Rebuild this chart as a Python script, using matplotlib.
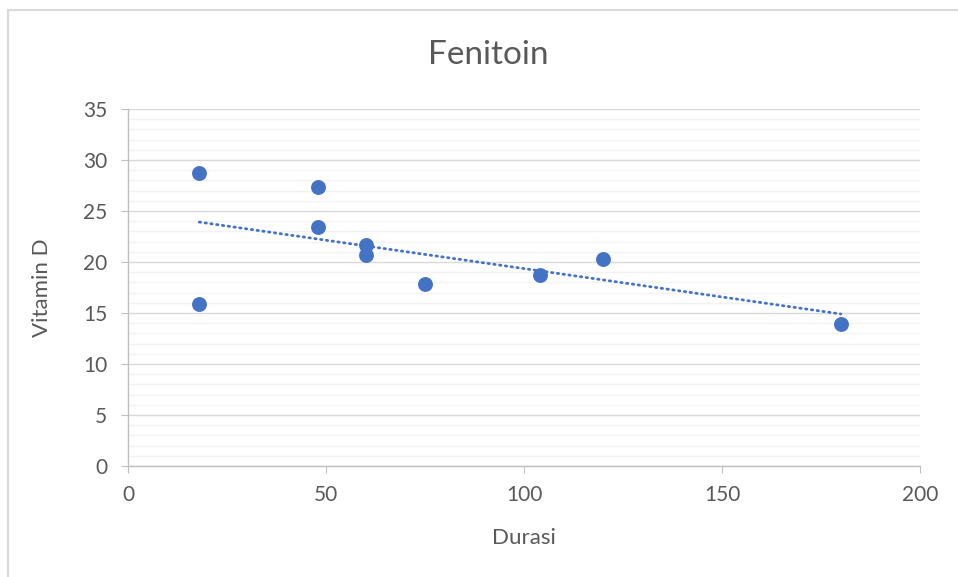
import numpy as np
import matplotlib.pyplot as plt
from matplotlib.ticker import MultipleLocator

plt.rcParams['font.family'] = ['Lato', 'DejaVu Sans']

# data
durasi = [18, 18, 48, 48, 60, 60, 75, 104, 120, 180]
vitamin_d = [28.7, 15.9, 27.4, 23.4, 21.7, 20.7, 17.8, 18.7, 20.3, 13.9]

blue = '#4472C4'
grey = '#595959'

fig = plt.figure(figsize=(9.58, 5.77), dpi=100)
# chart-area border, cut off at right and bottom like the screenshot
fig.add_artist(plt.Rectangle((7.5 / 958, -0.1), 1.2, 1.1 - 9.5 / 577,
                             transform=fig.transFigure, fill=False,
                             edgecolor='#d9d9d9', lw=1.5))
ax = fig.add_axes([0.1336, 0.1924, 0.8267, 0.6187])

ax.scatter(durasi, vitamin_d, s=115, color=blue, zorder=3, linewidths=0)

# linear trendline
k, b = np.polyfit(durasi, vitamin_d, 1)
xs = np.array([min(durasi), max(durasi)])
ax.plot(xs, k * xs + b, color=blue, lw=2.0, linestyle=(0, (0.5, 1.6)),
        dash_capstyle='round', zorder=2)

ax.set_xlim(0, 200)
ax.set_ylim(0, 35)
ax.xaxis.set_major_locator(MultipleLocator(50))
ax.yaxis.set_major_locator(MultipleLocator(5))
ax.yaxis.set_minor_locator(MultipleLocator(1))

ax.grid(which='major', axis='y', color='#d9d9d9', lw=1.0)
ax.grid(which='minor', axis='y', color='#f2f2f2', lw=1.0)
ax.set_axisbelow(True)

for s in ['top', 'right']:
    ax.spines[s].set_visible(False)
for s in ['left', 'bottom']:
    ax.spines[s].set_color('#bfbfbf')
    ax.spines[s].set_linewidth(1.0)

ax.tick_params(which='major', direction='out', length=5, color='#bfbfbf',
               labelsize=15, labelcolor=grey)
ax.tick_params(axis='x', pad=9)
ax.tick_params(axis='y', pad=10)
ax.tick_params(which='minor', length=0)

fig.text(0.51, 0.905, 'Fenitoin', fontsize=24, color=grey, ha='center', va='center')
fig.text(0.547, 0.068, 'Durasi', fontsize=16, color=grey, ha='center', va='center')
fig.text(0.044, 0.502, 'Vitamin D', fontsize=16, color=grey, ha='center', va='center',
         rotation=90)

fig.savefig('out.png', dpi=100)
